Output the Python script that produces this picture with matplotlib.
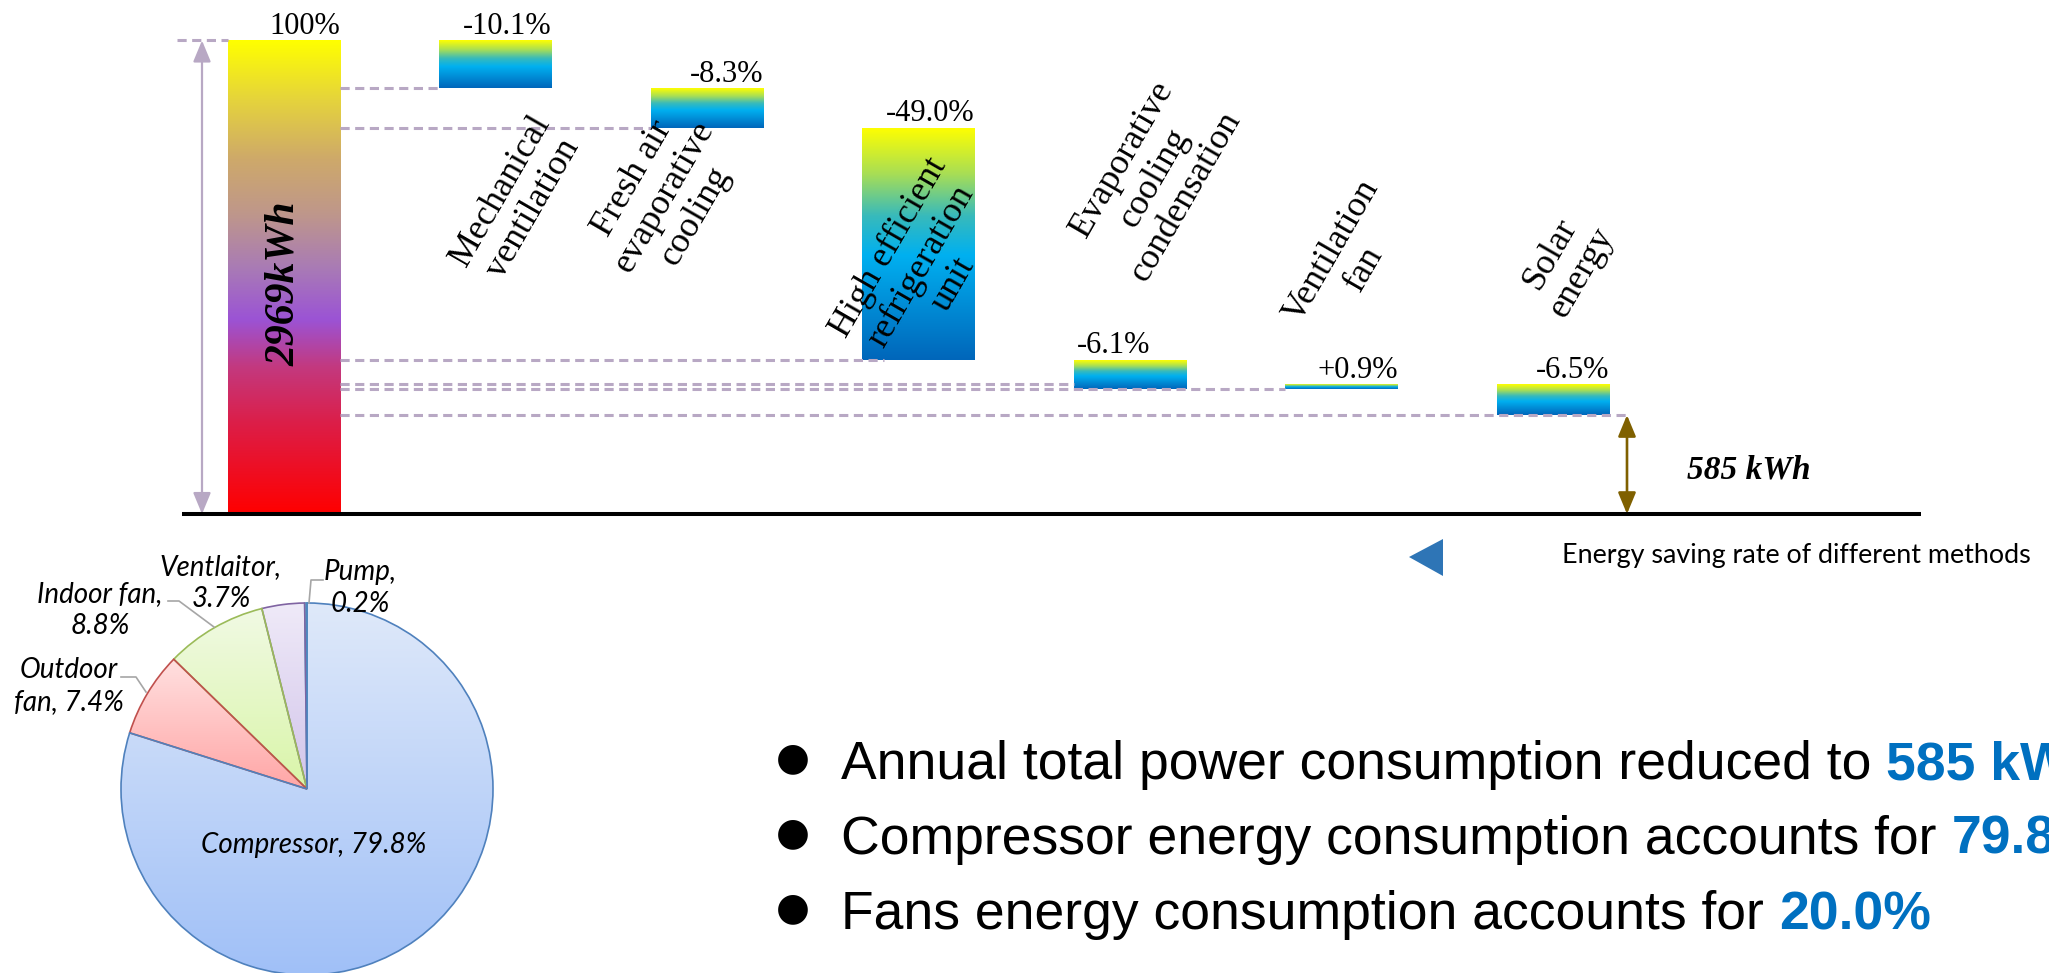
import numpy as np
import matplotlib
matplotlib.use("Agg")
import matplotlib.pyplot as plt
from matplotlib.colors import LinearSegmentedColormap
from matplotlib.patches import Polygon
from matplotlib.font_manager import FontProperties

# ---------------- data ----------------
methods = ["", "Mechanical\nventilation", "Fresh air\nevaporative\ncooling",
           "High efficient\nrefrigeration\nunit", "Evaporative\ncooling\ncondensation",
           "Ventilation\nfan", "Solar\nenergy"]
steps = [100.0, -10.1, -8.3, -49.0, -6.1, 0.9, -6.5]
baseline_kwh = 2969
final_kwh = 585

pie_labels = ["Pump", "Ventlaitor", "Indoor fan", "Outdoor fan", "Compressor"]
pie_shares = [0.2, 3.7, 8.8, 7.4, 79.8]

bullet_lines = [("Annual total power consumption reduced to", "585 kWh"),
                ("Compressor energy consumption accounts for", "79.8%"),
                ("Fans energy consumption accounts for", "20.0%")]
caption = "Energy saving rate of different methods"

# ---------------- layout ----------------
W, H = 2049, 973
X0_PX, STEP_PX = 284.0, 211.5      # pixel position of first bar, spacing
Y0_PX, PX_PER_PCT = 514.0, 4.735   # pixel row of 0 %, pixels per percent
BAR_W = 0.53

SERIF = "Liberation Serif"
SANS = "Liberation Sans"
CAL = "Lato"


def to_data(px, py):
    return (px - X0_PX) / STEP_PX, (Y0_PX - py) / PX_PER_PCT


def ffig(px, py):
    return px / W, 1 - py / H


fig = plt.figure(figsize=(W / 100, H / 100), dpi=100)
fig.patch.set_facecolor("white")
ax = fig.add_axes([0, 0, 1, 1])
ax.axis("off")

# ---------------- waterfall ----------------
xs = np.arange(len(steps))
bottoms, heights, levels = [], [], []
running = 0.0
for i, s in enumerate(steps):
    if i == 0:
        bottoms.append(0.0)
        heights.append(s)
        running = s
    else:
        new = running + s
        bottoms.append(min(running, new))
        heights.append(abs(s))
        running = new
    levels.append(running)

total_cmap = LinearSegmentedColormap.from_list(
    "total", [(0.0, "#FF0000"), (0.19, "#DC1E48"), (0.31, "#C3397F"),
              (0.41, "#9B53D5"), (0.52, "#A97BB5"), (0.63, "#BE968C"),
              (0.75, "#CEA96A"), (0.88, "#E6D53A"), (1.0, "#FFFF00")])
saving_cmap = LinearSegmentedColormap.from_list(
    "saving", [(0.0, "#0066BA"), (0.45, "#00B0F0"), (0.62, "#38BABB"),
               (0.8, "#A8DE55"), (1.0, "#FFFF00")])

bars = ax.bar(xs, heights, bottom=bottoms, width=BAR_W, color="none",
              edgecolor="none", zorder=2)
grad = np.linspace(0, 1, 256).reshape(-1, 1)
for i, b in enumerate(bars):
    x0, y0 = b.get_x(), b.get_y()
    im = ax.imshow(grad, cmap=total_cmap if i == 0 else saving_cmap,
                   origin="lower", aspect="auto", interpolation="bicubic",
                   extent=[x0, x0 + b.get_width(), y0, y0 + b.get_height()],
                   zorder=2)
    im.set_clip_path(b)

# value labels above each bar
for i, s in enumerate(steps):
    txt = "100%" if i == 0 else f"{s:+.1f}%"
    top = bottoms[i] + heights[i]
    if i == 4:
        tx, ha = xs[i] - 0.08, "center"
    else:
        tx, ha = xs[i] + BAR_W / 2, "right"
    ax.text(tx, top + 1.3, txt, ha=ha, va="baseline", fontsize=22,
            family=SERIF, zorder=5)

# method names, rotated
label_px = [(517, 200), (664, 197), (921, 266), (1154, 178), (1348, 260), (1566, 263)]
for i, (px, py) in enumerate(label_px, start=1):
    lx, ly = to_data(px, py)
    ax.text(lx, ly, methods[i], rotation=60, rotation_mode="anchor",
            ha="center", va="center", multialignment="center",
            fontsize=26, family=SERIF, linespacing=1.15, zorder=6)

# total label inside the first bar
_, ty = to_data(0, 284)
ax.text(xs[0], ty, f"{baseline_kwh}kWh", rotation=90, ha="center", va="center",
        fontsize=30, family=SERIF, weight="bold", style="italic", zorder=5)

# dashed connectors
dash_kw = dict(color="#B8A8C4", lw=2.2, linestyle=(0, (3, 1.8)), zorder=4)
left0 = xs[0] - BAR_W / 2
right0 = xs[0] + BAR_W / 2
arrow_x, _ = to_data(1627, 0)
ax.plot([to_data(177, 0)[0], left0], [levels[0]] * 2, **dash_kw)
ax.plot([right0, xs[1] - BAR_W / 2], [levels[1]] * 2, **dash_kw)
ax.plot([right0, xs[2] - BAR_W / 2], [levels[2]] * 2, **dash_kw)
ax.plot([right0, xs[3] - BAR_W / 2 + 0.1], [levels[3]] * 2, **dash_kw)
ax.plot([right0, xs[5] - BAR_W / 2], [levels[4]] * 2, **dash_kw)
ax.plot([right0, xs[4] - BAR_W / 2], [levels[5]] * 2, **dash_kw)
ax.plot([right0, arrow_x], [levels[6]] * 2, **dash_kw)

# total height arrow
vx, _ = to_data(202, 0)
ax.annotate("", xy=(vx, levels[0]), xytext=(vx, 0),
            arrowprops=dict(arrowstyle="<|-|>,head_length=0.65,head_width=0.27",
                            color="#B8A8C4", lw=1.6, shrinkA=0, shrinkB=0,
                            mutation_scale=20), zorder=3)

# remaining energy arrow
ax.annotate("", xy=(arrow_x, levels[-1]), xytext=(arrow_x, 0),
            arrowprops=dict(arrowstyle="<|-|>,head_length=0.65,head_width=0.27",
                            color="#7F6000", lw=1.9, shrinkA=0, shrinkB=0,
                            mutation_scale=20), zorder=3)
kx, ky = to_data(1687, 470)
ax.text(kx, ky, f"{final_kwh} kWh", ha="left", va="center", fontsize=24,
        family=SERIF, weight="bold", style="italic")

# baseline
bx0, _ = to_data(182, 0)
bx1, _ = to_data(1921, 0)
ax.plot([bx0, bx1], [0, 0], color="black", lw=2.9, solid_capstyle="butt", zorder=4)

ax.set_xlim(-X0_PX / STEP_PX, (W - X0_PX) / STEP_PX)
ax.set_ylim(-(H - Y0_PX) / PX_PER_PCT, Y0_PX / PX_PER_PCT)

# ---------------- caption with marker ----------------
tri = Polygon([ffig(1409, 557), ffig(1443, 539), ffig(1443, 576)], closed=True,
              transform=fig.transFigure, facecolor="#2E75B6", edgecolor="none")
fig.patches.append(tri)
fig.text(*ffig(1562, 563), caption, ha="left", va="baseline", fontsize=19.4,
         family=CAL)

# ---------------- pie ----------------
PC_X, PC_Y, PR = 307.0, 789.0, 186.0
pax = fig.add_axes([(PC_X - PR) / W, (H - PC_Y - PR) / H, 2 * PR / W, 2 * PR / H])
pax.axis("off")
edge_cols = ["#4BACC6", "#8064A2", "#9BBB59", "#C0504D", "#4F81BD"]
fill_grads = [("#3FA3BE", "#5BBCD6"), ("#D2C4EA", "#EFEAF8"), ("#D9F5A8", "#F1FAE4"),
              ("#FFA6A6", "#FFE0E0"), ("#A0C0F7", "#DFE9FA")]
wedges, _ = pax.pie(pie_shares, startangle=90, counterclock=True,
                    colors=["none"] * len(pie_shares),
                    wedgeprops=dict(linewidth=1.2, zorder=3))
for w, ec, (c0, c1) in zip(wedges, edge_cols, fill_grads):
    w.set_edgecolor(ec)
    w.set_facecolor("none")
    ext = w.get_path().get_extents()
    cm = LinearSegmentedColormap.from_list("g", [c0, c1])
    im = pax.imshow(grad, cmap=cm, origin="lower", aspect="auto",
                    interpolation="bicubic",
                    extent=[ext.x0, ext.x1, ext.y0, ext.y1], zorder=2)
    im.set_clip_path(w)


def pie_xy(px, py):
    return (px - PC_X) / PR, (PC_Y - py) / PR


pie_texts = [
    f"{pie_labels[0]},\n{pie_shares[0]}%",
    f"{pie_labels[1]},\n{pie_shares[1]}%",
    f"{pie_labels[2]},\n{pie_shares[2]}%",
    "{}\n{}, {}%".format(*pie_labels[3].split(" ", 1), pie_shares[3]),
    f"{pie_labels[4]}, {pie_shares[4]}%",
]
pie_text_px = [(360, 588), (221, 583), (100, 610), (69, 686), (314, 845)]
for t, (px, py) in zip(pie_texts, pie_text_px):
    pax.text(*pie_xy(px, py), t, ha="center", va="center", fontsize=20,
             family=CAL, style="italic", linespacing=1.3, zorder=6, clip_on=False)

leaders = [
    [(309, 603), (311, 580), (323, 580)],
    [(168, 601), (179, 601), (214, 627)],
    [(121, 677), (136, 677), (146, 692)],
]
for pts in leaders:
    xy = np.array([pie_xy(*p) for p in pts])
    pax.plot(xy[:, 0], xy[:, 1], color="#A6A6A6", lw=1.2, zorder=5, clip_on=False)
pax.set_xlim(-1, 1)
pax.set_ylim(-1, 1)

# ---------------- bullet list ----------------
renderer = fig.canvas.get_renderer()
fp = FontProperties(family=SANS, size=38.5)
w_sp = (renderer.get_text_width_height_descent("x x", fp, ismath=False)[0]
        - renderer.get_text_width_height_descent("xx", fp, ismath=False)[0])
for (plain, hi), centre in zip(bullet_lines, [758, 833, 908]):
    base = centre + 21
    fig.text(*ffig(793, centre), "\u25CF", ha="center", va="center",
             fontsize=28, family="DejaVu Sans")
    t = fig.text(*ffig(841, base), plain, ha="left", va="baseline",
                 fontproperties=fp)
    bb = t.get_window_extent(renderer)
    fig.text((bb.x1 + w_sp) / W, 1 - base / H, hi, ha="left", va="baseline",
             fontsize=38.5, family=SANS, weight="bold", color="#0070C0")

fig.savefig("out.png", dpi=100, facecolor="white")
